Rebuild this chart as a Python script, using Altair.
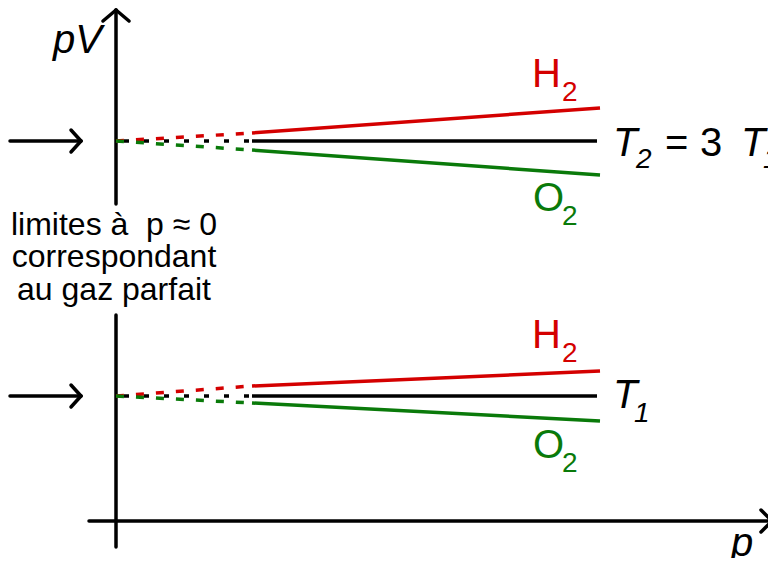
import altair as alt
import pandas as pd

# ---- data (arbitrary units: p horizontally, pV vertically; T1 level = 1) ----
p_solid_start = 2.72          # measured curves begin here (extrapolation to p = 0 is dashed)
p_end = 9.68                  # end of H2 / O2 curves
p_ideal_end = 9.62            # end of ideal-gas line
level_names = ["T2", "T1"]
ideal_pv = [3.04, 1.0]        # ideal gas (horizontal line) for each temperature
h2_pv_start = [3.104, 1.08]
h2_pv_end = [3.304, 1.20]
o2_pv_start = [2.968, 0.944]
o2_pv_end = [2.768, 0.80]

RED = "#d40000"
GREEN = "#0a7a0a"
BLACK = "#000000"

# ---- build tables ----
solid_rows, dash_col_rows, dash_blk_rows = [], [], []
for i, lv in enumerate(level_names):
    for gas, s, e, col in [("H2", h2_pv_start[i], h2_pv_end[i], RED),
                           ("O2", o2_pv_start[i], o2_pv_end[i], GREEN)]:
        lid = f"{lv}-{gas}"
        solid_rows += [dict(id=lid, p=p_solid_start, pv=s, col=col),
                       dict(id=lid, p=p_end, pv=e, col=col)]
        dash_col_rows += [dict(id=lid, p=0.0, pv=ideal_pv[i], col=col),
                          dict(id=lid, p=p_solid_start, pv=s, col=col)]
    lid = f"{lv}-ideal"
    solid_rows += [dict(id=lid, p=p_solid_start, pv=ideal_pv[i], col=BLACK),
                   dict(id=lid, p=p_ideal_end, pv=ideal_pv[i], col=BLACK)]
    dash_blk_rows += [dict(id=lid, p=0.0, pv=ideal_pv[i], col=BLACK),
                      dict(id=lid, p=p_solid_start, pv=ideal_pv[i], col=BLACK)]

solid = pd.DataFrame(solid_rows)
dash_col = pd.DataFrame(dash_col_rows)
dash_blk = pd.DataFrame(dash_blk_rows)

# axes and arrows as segments (p0, pv0) -> (p1, pv1)
p_axis_min, p_axis_max = -0.54, 13.12
pv_axis_min, pv_axis_max = -0.208, 4.088
pv_gap_low, pv_gap_high = 1.648, 2.536   # vertical axis interrupted by the text block
arr_p, arr_pv = 0.26, 0.088
left_arrow_start, left_arrow_tip = -2.12, -0.70
segments = pd.DataFrame([
    # pV axis
    dict(p0=0, pv0=pv_gap_high, p1=0, pv1=pv_axis_max),
    dict(p0=0, pv0=pv_axis_min, p1=0, pv1=pv_gap_low),
    dict(p0=0, pv0=pv_axis_max, p1=-arr_p, pv1=pv_axis_max - arr_pv),
    dict(p0=0, pv0=pv_axis_max, p1=arr_p, pv1=pv_axis_max - arr_pv),
    # p axis
    dict(p0=p_axis_min, pv0=0, p1=p_axis_max, pv1=0),
    dict(p0=p_axis_max, pv0=0, p1=p_axis_max - 0.22, pv1=arr_pv),
    dict(p0=p_axis_max, pv0=0, p1=p_axis_max - 0.22, pv1=-arr_pv),
] + sum([[
    dict(p0=left_arrow_start, pv0=lv, p1=left_arrow_tip, pv1=lv),
    dict(p0=left_arrow_tip, pv0=lv, p1=left_arrow_tip - 0.2, pv1=lv + arr_pv),
    dict(p0=left_arrow_tip, pv0=lv, p1=left_arrow_tip - 0.2, pv1=lv - arr_pv),
] for lv in ideal_pv], []))

# labels
normal_labels = pd.DataFrame([
    dict(t="H", p=8.32, pv=3.472, fs=40, col=RED),
    dict(t="2", p=8.92, pv=3.360, fs=28, col=RED),
    dict(t="O", p=8.34, pv=2.480, fs=40, col=GREEN),
    dict(t="2", p=8.92, pv=2.368, fs=28, col=GREEN),
    dict(t="H", p=8.32, pv=1.384, fs=40, col=RED),
    dict(t="2", p=8.92, pv=1.272, fs=28, col=RED),
    dict(t="O", p=8.34, pv=0.504, fs=40, col=GREEN),
    dict(t="2", p=8.92, pv=0.392, fs=28, col=GREEN),
    dict(t="=", p=10.98, pv=2.920, fs=40, col=BLACK),
    dict(t="3", p=11.68, pv=2.920, fs=40, col=BLACK),
])
italic_labels = pd.DataFrame([
    dict(t="pV", p=-1.26, pv=3.744, fs=40, col=BLACK),
    dict(t="p", p=12.30, pv=-0.280, fs=40, col=BLACK),
    dict(t="T", p=9.94, pv=2.920, fs=40, col=BLACK),
    dict(t="2", p=10.40, pv=2.824, fs=28, col=BLACK),
    dict(t="T", p=12.50, pv=2.920, fs=40, col=BLACK),
    dict(t="1", p=12.94, pv=2.824, fs=28, col=BLACK),
    dict(t="T", p=9.94, pv=0.904, fs=40, col=BLACK),
    dict(t="1", p=10.36, pv=0.792, fs=28, col=BLACK),
])
note_lines = ["limites à\u00a0\u00a0p ≈ 0", "correspondant", "au gaz parfait"]
note = pd.DataFrame(dict(t=note_lines, p=[-0.04] * 3, pv=[2.288, 2.032, 1.768]))

# ---- chart ----
xs = alt.Scale(domain=[-2.16, 13.04], nice=False, zero=False)
ys = alt.Scale(domain=[-0.296, 4.104], nice=False, zero=False)
FONT = "Liberation Sans"

def X(f="p"):
    return alt.X(f"{f}:Q", scale=xs, axis=None)

def Y(f="pv"):
    return alt.Y(f"{f}:Q", scale=ys, axis=None)

col_enc = alt.Color("col:N", scale=None, legend=None)

axes_layer = alt.Chart(segments).mark_rule(color=BLACK, strokeWidth=3.5, strokeCap="round").encode(
    x=X("p0"), y=Y("pv0"), x2="p1:Q", y2="pv1:Q")

dash_blk_layer = alt.Chart(dash_blk).mark_line(strokeWidth=3.5, strokeDash=[5, 15], strokeDashOffset=12).encode(
    x=X(), y=Y(), detail="id:N", color=col_enc)
dash_col_layer = alt.Chart(dash_col).mark_line(strokeWidth=3.5, strokeDash=[8, 12]).encode(
    x=X(), y=Y(), detail="id:N", color=col_enc)
solid_layer = alt.Chart(solid).mark_line(strokeWidth=3.5).encode(
    x=X(), y=Y(), detail="id:N", color=col_enc)

normal_text = alt.Chart(normal_labels).mark_text(font=FONT, align="left", baseline="alphabetic").encode(
    x=X(), y=Y(), text="t:N", size=alt.Size("fs:Q", scale=None, legend=None), color=col_enc)
italic_text = alt.Chart(italic_labels).mark_text(font=FONT, fontStyle="italic", align="left",
                                                 baseline="alphabetic").encode(
    x=X(), y=Y(), text="t:N", size=alt.Size("fs:Q", scale=None, legend=None), color=col_enc)
note_text = alt.Chart(note).mark_text(font=FONT, fontSize=32, align="center", baseline="alphabetic",
                                      color=BLACK).encode(x=X(), y=Y(), text="t:N")

chart = alt.layer(
    axes_layer, dash_blk_layer, dash_col_layer, solid_layer, normal_text, italic_text, note_text
).properties(
    width=760, height=550, padding=0, autosize=alt.AutoSizeParams(type="none"),
    background="white"
).configure_view(stroke=None)

chart.save("out.html", embed_options={"renderer": "svg", "actions": False})
